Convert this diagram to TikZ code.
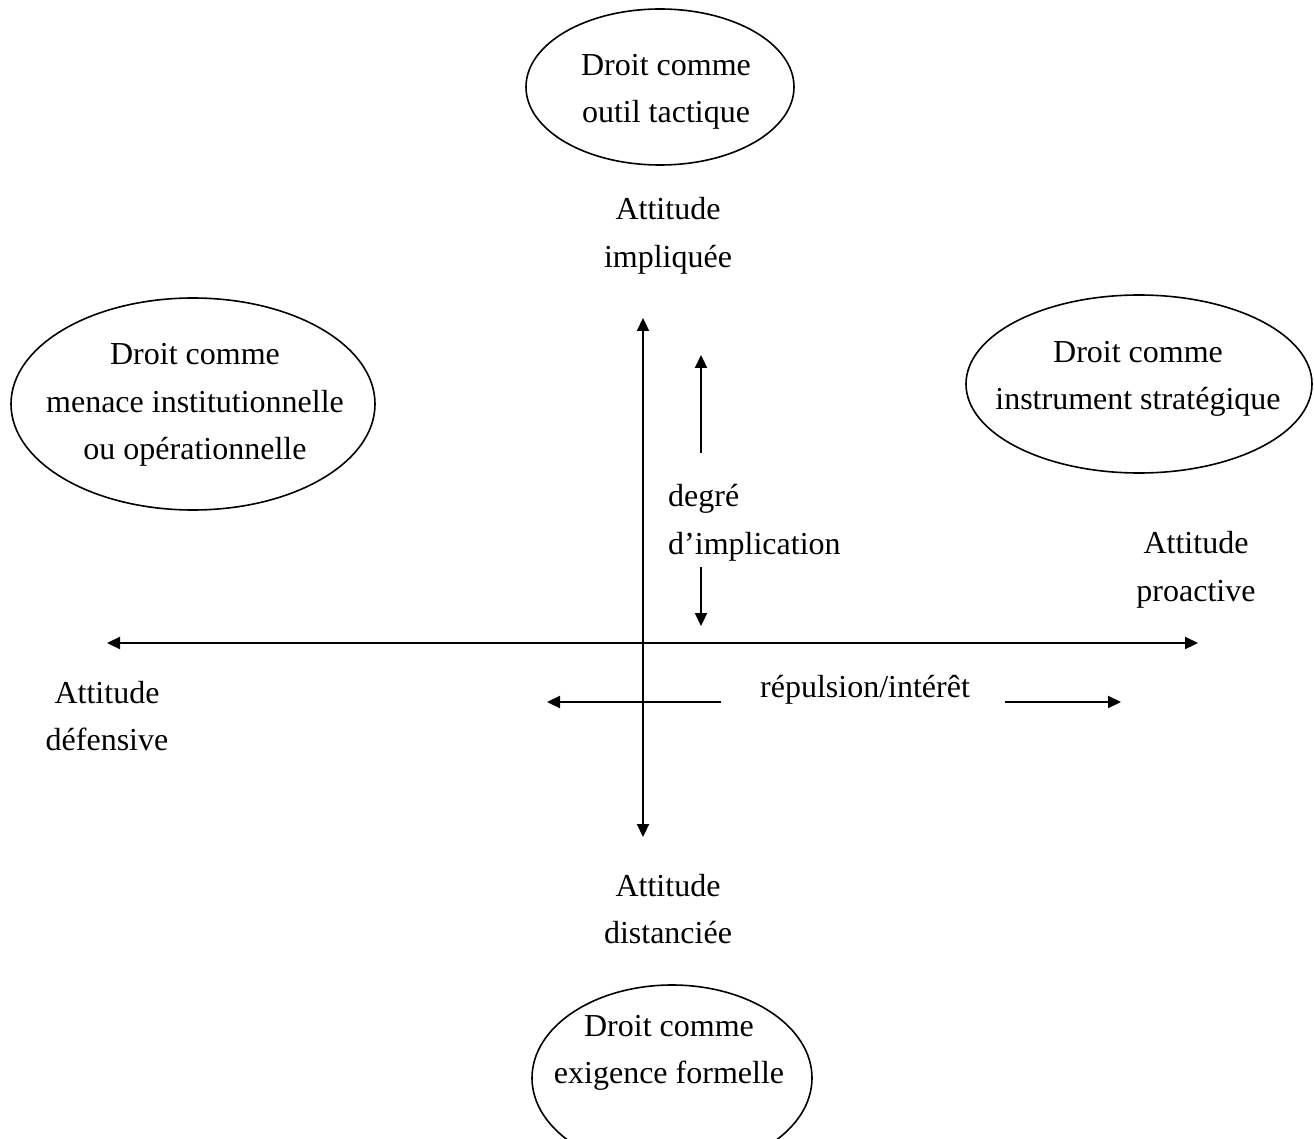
\documentclass[tikz,border=0pt]{standalone}
\usepackage{fontspec}
\setmainfont{Liberation Serif}
\usetikzlibrary{shapes.geometric,arrows.meta}
\begin{document}
\begin{tikzpicture}[x=1pt,y=-1pt,
  txt/.style={font=\fontsize{32}{47.5}\selectfont, align=center, inner sep=0pt},
  oval/.style={draw, ellipse, line width=1.6pt, inner sep=0pt},
  ax/.style={line width=2.2pt, -{Triangle[length=13pt,width=12pt]}},
  axx/.style={line width=2.2pt, {Triangle[length=13pt,width=12pt]}-{Triangle[length=13pt,width=12pt]}}]
\useasboundingbox (0,0) rectangle (1314,1139);
\clip (0,0) rectangle (1314,1139);
% ellipses
\node[oval, minimum width=268pt, minimum height=156pt] (eT) at (660,87) {};
\node[oval, minimum width=364pt, minimum height=212pt] (eL) at (193,404) {};
\node[oval, minimum width=346pt, minimum height=178pt] (eR) at (1139,384) {};
\node[oval, minimum width=280pt, minimum height=186pt] (eB) at (672,1078) {};
% ellipse texts
\node[txt] (tT) at (666,92) {Droit comme\\outil tactique};
\node[txt] (tL) at (195,405) {Droit comme\\menace institutionnelle\\ou opérationnelle};
\node[txt] (tR) at (1138,379) {Droit comme\\instrument stratégique};
\node[txt] (tB) at (669,1053) {Droit comme\\exigence formelle};
% axis labels
\node[txt] (aTop) at (668,236) {Attitude\\impliquée};
\node[txt] (aBot) at (668,909) {Attitude\\distanciée};
\node[txt] (aR) at (1196,570) {Attitude\\proactive};
\node[txt] (aL) at (107,716) {Attitude\\défensive};
\node[txt, anchor=west, align=left] (deg) at (668,523) {degré\\d’implication};
\node[txt] (rep) at (865,690) {répulsion/intérêt};
% axes
\coordinate (vT) at (643,318);
\coordinate (vB) at (643,837);
\coordinate (hL) at (107,643);
\coordinate (hR) at (1198,643);
\draw[axx] (vB) -- (vT);
\draw[axx] (hL) -- (hR);
% small arrows
\coordinate (u0) at (701,453);
\coordinate (u1) at (701,355);
\coordinate (d0) at (701,567);
\coordinate (d1) at (701,626);
\coordinate (l0) at (721,702);
\coordinate (l1) at (547,702);
\coordinate (r0) at (1005,702);
\coordinate (r1) at (1121,702);
\draw[ax] (u0) -- (u1);
\draw[ax] (d0) -- (d1);
\draw[ax] (l0) -- (l1);
\draw[ax] (r0) -- (r1);
\end{tikzpicture}
\end{document}
